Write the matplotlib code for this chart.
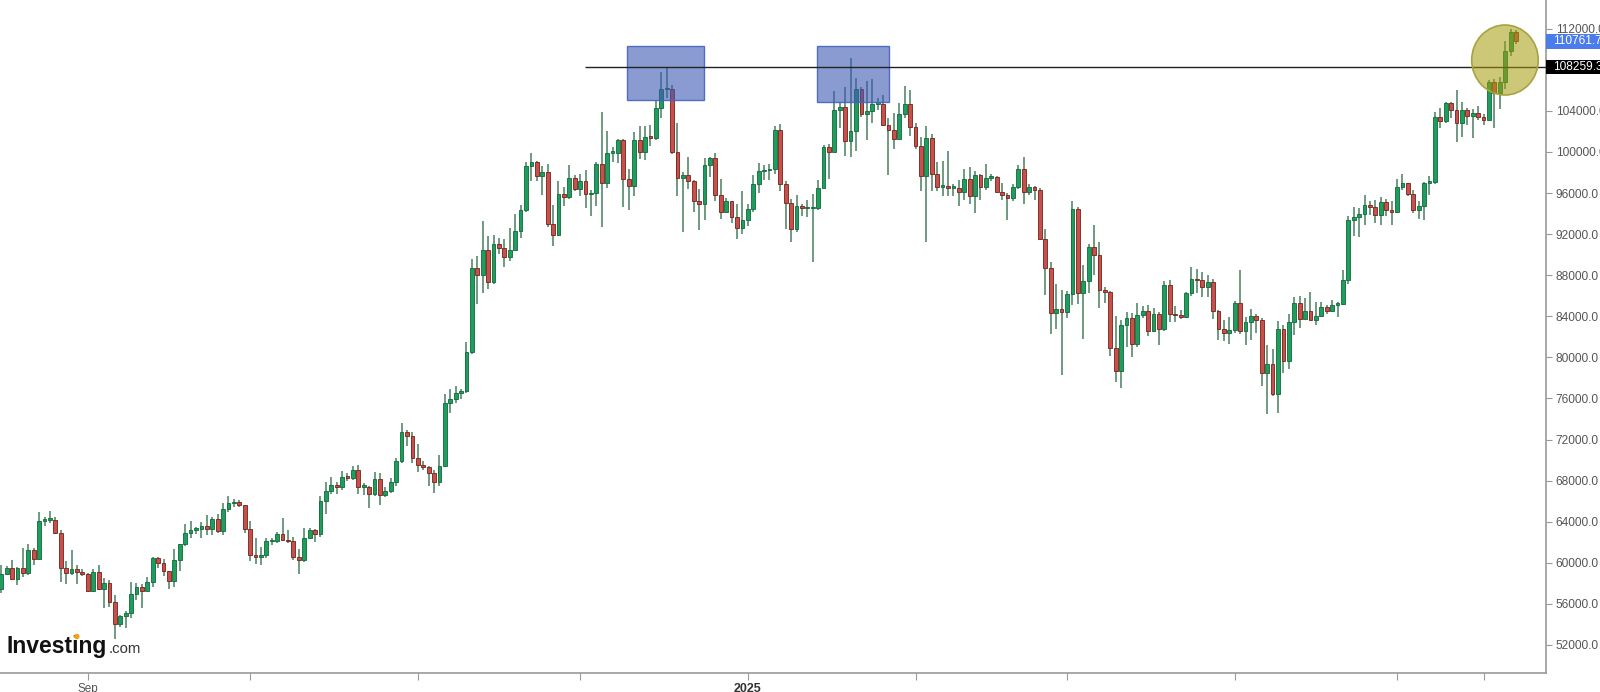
import numpy as np
import pandas as pd
import matplotlib
matplotlib.use("Agg")
import matplotlib.pyplot as plt
import matplotlib.transforms as mtransforms
from matplotlib.patches import Rectangle, Ellipse

# ---------------- data (BTC/USD daily, values in thousand USD) ----------------
start_date = "2024-08-16"

opens = [
    57.5, 58.9, 59.5, 58.4, 59.5, 59.0, 61.2, 60.4, 64.1, 64.2, 64.2, 62.9, 59.5, 59.0, 59.4, 59.1,
    58.9, 57.3, 59.1, 57.5, 58.0, 56.2, 54.0, 54.8, 55.1, 57.0, 57.6, 57.3, 58.1, 60.5, 60.0, 59.2,
    58.2, 60.3, 61.8, 62.9, 63.2, 63.3, 63.6, 63.3, 64.3, 63.1, 65.2, 65.8, 65.9, 65.6,
    63.3, 60.8, 60.6, 60.8, 62.1, 62.1, 62.8, 62.2, 62.1, 60.6, 60.3, 62.4, 63.2, 62.8, 66.0, 67.0,
    67.6, 67.4, 68.4, 68.3, 69.0, 67.4, 67.4, 66.7, 68.2, 66.6, 67.0, 67.9, 69.9, 72.7, 72.3,
    70.2, 69.5, 69.3, 68.7, 67.9, 69.4, 75.6, 75.9, 76.5, 76.7, 80.5, 88.7, 88.0, 90.5, 87.3, 91.0,
    90.6, 89.8, 90.5, 92.3, 94.3, 98.6, 99.0, 97.7, 98.0, 93.0, 91.9, 95.9, 95.6, 97.5,
    96.4, 97.2, 95.9, 96.0, 98.8, 97.0, 99.9, 99.9, 101.2, 97.4, 96.7, 101.2, 100.0, 101.5, 101.4,
    104.3, 106.1, 106.1, 100.0, 97.5, 97.8, 97.2, 95.2, 94.9, 98.7, 99.4, 95.8, 94.2, 95.2, 93.7, 92.6,
    93.4, 94.4, 96.9, 98.1, 98.2, 98.3, 102.1, 96.9, 95.0, 92.5, 94.7, 94.5, 94.5, 94.5, 96.5, 100.5,
    100.0, 104.1, 104.4, 101.1, 102.0, 106.1, 103.7, 104.0, 104.7, 104.7, 102.6, 102.1, 101.3, 103.7, 104.7,
    102.4, 100.6, 97.7, 101.4, 97.9, 96.6, 96.6, 96.5, 96.5, 96.1, 97.4, 95.7, 97.8, 96.6,
    97.5, 97.6, 96.1, 95.8, 95.5, 96.6, 98.3, 96.1, 96.6, 96.3, 91.5, 88.7, 84.3, 84.7,
    84.4, 86.2, 94.4, 86.3, 87.4, 90.7, 90.0, 86.6, 86.4, 80.9, 78.7, 83.2, 83.8, 81.3, 84.1, 84.5,
    82.6, 84.2, 82.8, 87.0, 84.2, 84.1, 83.9, 86.3, 87.6, 87.5, 86.9, 87.3, 84.5, 82.8, 82.4,
    82.7, 85.3, 82.6, 83.4, 84.0, 83.6, 78.5, 79.4, 76.4, 82.8, 79.6, 83.4, 85.3, 83.7, 84.5,
    83.6, 84.0, 84.9, 84.5, 85.1, 85.2, 87.5, 93.4, 93.7, 94.0, 94.8, 94.6, 93.9, 95.1, 94.3,
    94.2, 96.6, 97.0, 95.9, 94.3, 94.7, 97.0, 97.1, 103.4, 103.0, 104.8, 104.1, 102.8, 104.1, 103.5,
    103.8, 103.4, 103.1, 106.8, 105.7, 106.85, 109.8, 111.7,
]

highs = [
    59.8, 59.7, 60.3, 59.6, 61.4, 61.8, 61.4, 64.9, 64.5, 65.0, 64.5, 63.2, 60.2, 61.2, 59.8, 59.4,
    59.0, 59.4, 59.8, 58.5, 58.3, 56.9, 54.9, 55.3, 58.1, 58.0, 57.9, 58.6, 60.6, 60.6, 60.4, 59.2,
    61.3, 61.8, 63.8, 64.1, 63.5, 64.0, 64.7, 64.5, 64.8, 65.8, 66.5, 66.2, 66.1, 65.6,
    64.1, 62.4, 61.5, 62.4, 62.4, 63.0, 64.4, 63.2, 62.5, 61.3, 63.4, 63.4, 63.3, 66.5, 67.9, 68.4,
    67.9, 68.9, 68.7, 69.4, 69.5, 67.8, 67.5, 68.8, 68.7, 67.4, 68.3, 70.2, 73.6, 72.9, 72.7,
    71.6, 69.9, 69.4, 69.0, 70.5, 76.4, 76.9, 77.2, 76.9, 81.5, 89.6, 89.9, 93.3, 91.8, 91.9, 91.6,
    91.5, 92.6, 94.0, 94.8, 99.0, 99.9, 99.1, 98.6, 98.8, 94.8, 97.2, 96.6, 98.7, 97.8,
    97.9, 98.2, 96.3, 99.0, 103.9, 102.0, 100.5, 101.3, 101.3, 98.3, 101.9, 102.5, 102.5, 102.6, 105.1,
    107.8, 108.3, 106.5, 102.8, 98.0, 99.5, 97.3, 96.4, 99.4, 99.5, 99.9, 97.4, 95.5, 95.2, 94.9, 96.2,
    94.9, 97.8, 98.9, 98.7, 98.8, 102.5, 102.7, 97.2, 95.4, 95.8, 94.9, 95.3, 95.9, 97.3, 100.7, 100.8,
    105.9, 104.9, 106.3, 109.1, 107.2, 106.3, 106.9, 107.1, 105.3, 105.5, 103.3, 103.8, 104.8, 106.4, 106.0,
    102.8, 101.5, 102.5, 101.7, 99.0, 99.1, 100.1, 96.9, 97.3, 98.3, 98.5, 98.1, 97.9, 98.8,
    97.9, 97.7, 97.0, 96.0, 96.9, 98.7, 99.5, 96.9, 96.7, 96.5, 92.5, 89.3, 87.1, 86.6,
    86.5, 95.2, 94.6, 89.0, 91.0, 92.9, 91.2, 86.9, 86.5, 84.0, 83.6, 84.4, 84.3, 85.3, 85.0, 85.1,
    84.8, 84.4, 87.4, 87.5, 85.0, 84.6, 86.4, 88.8, 88.6, 88.3, 88.0, 87.6, 84.6, 83.6, 83.9,
    85.5, 88.5, 83.9, 84.7, 84.2, 83.8, 81.2, 80.8, 83.5, 83.2, 84.2, 85.9, 86.0, 85.8, 86.4,
    85.4, 85.4, 85.1, 85.6, 85.4, 88.5, 93.8, 94.6, 94.5, 95.8, 95.2, 95.3, 95.6, 95.4, 95.2,
    97.4, 97.9, 97.0, 96.3, 95.2, 97.1, 97.7, 103.9, 104.3, 104.9, 104.9, 106.0, 104.9, 104.3, 104.2,
    104.5, 103.7, 107.0, 107.1, 107.3, 110.8, 112.0, 111.9,
]

lows = [
    57.1, 58.8, 58.4, 57.8, 58.6, 58.8, 59.8, 60.3, 63.6, 63.9, 62.8, 58.1, 57.9, 58.8, 57.9, 58.7,
    57.2, 57.2, 57.4, 55.6, 55.7, 52.6, 53.8, 53.7, 54.6, 56.4, 55.6, 57.3, 57.6, 59.5, 58.7, 57.5,
    57.6, 59.2, 61.6, 62.4, 62.8, 62.4, 62.7, 62.7, 62.9, 62.7, 64.9, 65.4, 65.4, 62.9,
    60.2, 59.9, 59.8, 60.5, 61.7, 61.9, 62.1, 61.9, 60.3, 58.9, 60.1, 62.4, 62.0, 62.5, 64.8, 66.7,
    66.7, 67.1, 68.0, 68.1, 66.7, 66.6, 65.3, 66.5, 65.6, 66.4, 66.8, 67.5, 69.7, 71.4, 69.7,
    68.8, 69.0, 67.5, 66.8, 67.5, 69.3, 74.6, 75.6, 75.9, 76.5, 80.3, 85.2, 86.3, 86.7, 87.1, 90.1,
    88.8, 89.4, 90.5, 91.6, 94.2, 97.2, 97.2, 95.8, 92.7, 90.8, 91.8, 94.7, 95.4, 96.2,
    95.7, 94.5, 93.8, 94.7, 92.7, 96.5, 99.0, 98.9, 94.6, 94.3, 95.7, 99.3, 99.2, 100.6, 101.2,
    103.3, 105.3, 99.8, 95.7, 92.2, 96.4, 94.2, 92.4, 93.4, 97.6, 95.2, 93.5, 94.1, 93.1, 91.5, 92.0,
    92.8, 94.2, 96.0, 97.3, 97.3, 97.9, 96.2, 92.5, 91.2, 92.2, 93.8, 93.7, 89.3, 94.3, 96.5, 97.4,
    100.0, 102.3, 99.6, 99.5, 100.1, 103.4, 101.2, 102.8, 104.1, 102.5, 97.8, 100.3, 101.3, 103.3, 101.6,
    100.3, 96.2, 91.2, 96.2, 96.2, 95.7, 95.7, 95.7, 94.7, 95.3, 94.9, 94.1, 95.3, 96.3,
    97.2, 96.1, 95.3, 93.4, 95.2, 96.4, 94.9, 95.8, 95.3, 91.4, 86.1, 82.3, 82.8, 78.3,
    83.8, 85.1, 85.2, 81.8, 86.3, 88.0, 84.8, 85.3, 80.1, 77.6, 77.0, 81.0, 80.0, 81.0, 83.8, 82.1,
    82.5, 81.2, 82.6, 83.4, 83.4, 83.7, 83.8, 86.0, 86.3, 85.9, 85.9, 83.7, 81.7, 81.6, 81.3,
    82.4, 82.3, 81.2, 81.7, 82.4, 77.2, 74.5, 76.2, 74.6, 78.5, 78.9, 82.2, 82.9, 83.7, 83.6,
    83.2, 83.9, 84.2, 84.4, 83.9, 85.1, 87.1, 91.8, 91.7, 92.9, 93.9, 93.1, 92.9, 93.8, 92.9,
    94.1, 96.3, 95.7, 94.1, 93.5, 93.4, 95.8, 96.9, 102.3, 102.8, 103.3, 101.0, 101.5, 102.6, 101.4,
    103.1, 102.6, 103.1, 102.3, 104.2, 106.1, 109.3, 110.5,
]

closes = [
    58.9, 59.5, 58.4, 59.5, 59.0, 61.2, 60.4, 64.1, 64.2, 64.2, 62.9, 59.5, 59.0, 59.4, 59.1, 58.9,
    57.3, 59.1, 57.5, 58.0, 56.2, 54.0, 54.8, 55.1, 57.0, 57.6, 57.3, 58.1, 60.5, 60.0, 59.2, 58.2,
    60.3, 61.8, 62.9, 63.2, 63.3, 63.6, 63.3, 64.3, 63.1, 65.2, 65.8, 65.9, 65.6, 63.3,
    60.8, 60.6, 60.8, 62.1, 62.1, 62.8, 62.2, 62.1, 60.6, 60.3, 62.4, 63.2, 62.8, 66.0, 67.0, 67.6,
    67.4, 68.4, 68.3, 69.0, 67.4, 67.4, 66.7, 68.2, 66.6, 67.0, 67.9, 69.9, 72.7, 72.3, 70.2,
    69.5, 69.3, 68.7, 67.9, 69.4, 75.6, 75.9, 76.5, 76.7, 80.5, 88.7, 88.0, 90.5, 87.3, 91.0, 90.6,
    89.8, 90.5, 92.3, 94.3, 98.6, 99.0, 97.7, 98.0, 93.0, 91.9, 95.9, 95.6, 97.5, 96.4,
    97.2, 95.9, 96.0, 98.8, 97.0, 99.9, 99.9, 101.2, 97.4, 96.7, 101.2, 100.0, 101.5, 101.4, 104.3,
    106.1, 106.1, 100.0, 97.5, 97.8, 97.2, 95.2, 94.9, 98.7, 99.4, 95.8, 94.2, 95.2, 93.7, 92.6, 93.4,
    94.4, 96.9, 98.1, 98.2, 98.3, 102.1, 96.9, 95.0, 92.5, 94.7, 94.5, 94.5, 94.5, 96.5, 100.5, 100.0,
    104.1, 104.4, 101.1, 102.0, 106.1, 103.7, 104.0, 104.7, 104.7, 102.6, 102.1, 101.3, 103.7, 104.7, 102.4,
    100.6, 97.7, 101.4, 97.9, 96.6, 96.6, 96.5, 96.5, 96.1, 97.4, 95.7, 97.8, 96.6, 97.5,
    97.6, 96.1, 95.8, 95.5, 96.6, 98.3, 96.1, 96.6, 96.3, 91.5, 88.7, 84.3, 84.7, 84.4,
    86.2, 94.4, 86.3, 87.4, 90.7, 90.0, 86.6, 86.4, 80.9, 78.7, 83.2, 83.8, 81.3, 84.1, 84.5, 82.6,
    84.2, 82.8, 87.0, 84.2, 84.1, 83.9, 86.3, 87.6, 87.5, 86.9, 87.3, 84.5, 82.8, 82.4, 82.7,
    85.3, 82.6, 83.4, 84.0, 83.6, 78.5, 79.4, 76.4, 82.8, 79.6, 83.4, 85.3, 83.7, 84.5, 83.6,
    84.0, 84.9, 84.5, 85.1, 85.2, 87.5, 93.4, 93.7, 94.0, 94.8, 94.6, 93.9, 95.1, 94.3, 94.2,
    96.6, 97.0, 95.9, 94.3, 94.7, 97.0, 97.1, 103.4, 103.0, 104.8, 104.1, 102.8, 104.1, 103.5, 103.8,
    103.4, 103.1, 106.8, 105.7, 106.85, 109.8, 111.7, 110.7617,
]

x_tick_dates = ["2024-09-01", "2024-10-01", "2024-11-01", "2024-12-01", "2025-01-01",
                "2025-02-01", "2025-03-01", "2025-04-01", "2025-05-01", "2025-05-17"]
x_tick_labels = ["Sep", "", "", "", "2025", "", "", "", "", ""]
y_ticks = list(range(52000, 112001, 4000))

resistance_level = 108259.3
last_price = 110761.7
zone_1 = ("2024-12-09 18:00", "2024-12-23 22:00", 105057, 110313)
zone_2 = ("2025-01-13 19:00", "2025-01-27 02:00", 104862, 110313)
highlight = ("2025-05-20 23:00", 108950)

# ---------------- drawing ----------------
origin = pd.Timestamp("2024-09-01")


def day(s):
    return (pd.Timestamp(s) - origin) / pd.Timedelta(days=1)


n = min(len(opens), len(highs), len(lows), len(closes))
dates = pd.date_range(start_date, periods=n, freq="D")
x = np.array((dates - origin) / pd.Timedelta(days=1), dtype=float)
o = np.array(opens[:n]) * 1000
h = np.array(highs[:n]) * 1000
l = np.array(lows[:n]) * 1000
c = np.array(closes[:n]) * 1000

W, H = 1600, 692
fig = plt.figure(figsize=(W / 100, H / 100), dpi=100)
fig.patch.set_facecolor("white")
ax = fig.add_axes([0.0, 1 - 673 / H, 1546 / W, 673 / H])
ax.set_facecolor("white")

FONT = "Liberation Sans"
up = c >= o
green, green_edge = "#1f9d5e", "#0d6a38"
red, red_edge = "#c4524a", "#7a1e19"
wick = "#6f9a80"

ax.vlines(x, l, h, color=wick, linewidth=1.4, zorder=2)
body_lo = np.minimum(o, c)
body_h = np.maximum(np.abs(c - o), 150)
ax.bar(x[up], body_h[up], bottom=body_lo[up], width=0.7, color=green,
       edgecolor=green_edge, linewidth=0.6, zorder=3)
ax.bar(x[~up], body_h[~up], bottom=body_lo[~up], width=0.7, color=red,
       edgecolor=red_edge, linewidth=0.6, zorder=3)

# zones
for z in (zone_1, zone_2):
    x0, x1 = day(z[0]), day(z[1])
    ax.add_patch(Rectangle((x0, z[2]), x1 - x0, z[3] - z[2], facecolor=(0.235, 0.345, 0.71, 0.6),
                           edgecolor=(0.27, 0.39, 0.75, 0.9), linewidth=1.0, zorder=4))

# resistance line
xmin, xmax = -16.23, 269.54
ax.hlines(resistance_level, day("2024-12-01 22:00"), xmax, color="#222222", linewidth=1.0, zorder=5)

# highlight ellipse
ax.add_patch(Ellipse((day(highlight[0]), highlight[1]), 12.3, 6815,
                     facecolor=(0.64, 0.61, 0.04, 0.55), edgecolor=(0.66, 0.64, 0.25, 1.0),
                     linewidth=1.2, zorder=6))

ax.set_xlim(xmin, xmax)
ax.set_ylim(49274, 114792)

ax.set_xticks([day(d) for d in x_tick_dates])
ax.set_xticklabels(x_tick_labels)
for lbl in ax.get_xticklabels():
    lbl.set_fontfamily(FONT)
    if lbl.get_text() == "2025":
        lbl.set_fontweight("bold")
        lbl.set_fontsize(9)
        lbl.set_color("#333333")
    else:
        lbl.set_fontsize(8.5)
        lbl.set_color("#555555")
ax.tick_params(axis="x", length=5, width=0.8, color="#999999", pad=2)

LABEL_SIZE = 8.6
ax.yaxis.tick_right()
ax.set_yticks(y_ticks)
ax.set_yticklabels([f"{v:.1f}" for v in y_ticks], fontfamily=FONT, fontsize=LABEL_SIZE, color="#555555")
ax.tick_params(axis="y", length=4, width=0.8, color="#999999", pad=3)

for s in ("top", "left"):
    ax.spines[s].set_visible(False)
for s in ("right", "bottom"):
    ax.spines[s].set_color("#9a9a9a")
    ax.spines[s].set_linewidth(1.2)

# price labels on the right axis
trans = mtransforms.blended_transform_factory(ax.transAxes, ax.transData)
half_px = 7.2
px_per_usd = 673 / (114792 - 49274)
for price, fc in ((last_price, "#4b7cec"), (resistance_level, "#000000")):
    hh = half_px / px_per_usd
    ax.add_patch(Rectangle((1.0, price - hh), 0.06, 2 * hh, transform=trans, facecolor=fc,
                           edgecolor="none", clip_on=False, zorder=10))
    ax.text(1.0 + 7 / 1546, price, f"{price:.1f}", transform=trans, ha="left", va="center",
            color="white", fontsize=LABEL_SIZE, fontfamily=FONT, clip_on=False, zorder=11)

# Investing.com logo
logo_x, logo_base = 7, 653
logo_size = 16.5
fig.text(logo_x / W, 1 - logo_base / H, "Investing", fontsize=logo_size, fontweight="bold",
         fontfamily=FONT, color="#111111", ha="left", va="baseline")
fig.canvas.draw()
renderer = fig.canvas.get_renderer()
tmp = fig.text(logo_x / W, 1 - logo_base / H, "Investing", fontsize=logo_size, fontweight="bold",
               fontfamily=FONT, ha="left", va="baseline", alpha=0)
full_w = tmp.get_window_extent(renderer).width
tmp.set_text("Invest")
w_invest = tmp.get_window_extent(renderer).width
tmp.set_text("Investi")
w_investi = tmp.get_window_extent(renderer).width
tmp.remove()
em = logo_size * 100 / 72
dot_x = logo_x + (w_invest + w_investi) / 2 + 0.5
dot_y = logo_base - 0.72 * em
fig.add_artist(Ellipse((dot_x / W, 1 - dot_y / H), 0.24 * em / W, 0.24 * em / H,
                       transform=fig.transFigure, facecolor="#f3a21c", edgecolor="none", zorder=20))
fig.text((logo_x + full_w + 1) / W, 1 - logo_base / H, ".com", fontsize=10.7, fontfamily=FONT,
         color="#333333", ha="left", va="baseline")

fig.savefig("out.png", dpi=100, facecolor="white")
